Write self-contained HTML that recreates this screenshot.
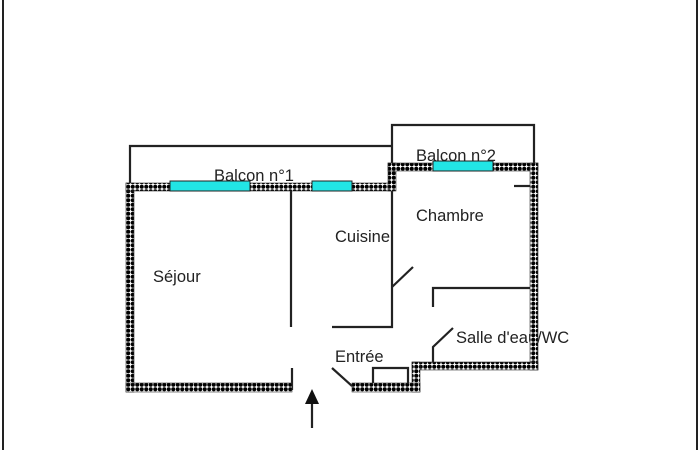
<!DOCTYPE html>
<html><head><meta charset="utf-8"><style>
html,body{margin:0;padding:0;background:#fff;}
svg{display:block;}
text{font-family:"Liberation Sans",sans-serif;font-size:16.5px;fill:#222;}
</style></head><body>
<svg width="700" height="450" viewBox="0 0 700 450" xmlns="http://www.w3.org/2000/svg">
<defs>
<pattern id="w" width="4.5" height="4.5" patternUnits="userSpaceOnUse">
<rect width="4.5" height="4.5" fill="#fff"/>
<circle cx="2.25" cy="2.25" r="2" fill="#000"/>
</pattern>
</defs>
<line x1="3" y1="0" x2="3" y2="450" stroke="#222" stroke-width="2"/>
<line x1="697" y1="0" x2="697" y2="450" stroke="#222" stroke-width="2"/>
<g fill="none" stroke="#222" stroke-width="2.2">
<polyline points="130,183 130,146 392,146"/>
<polyline points="392,163 392,125 534,125 534,163"/>
<line x1="291" y1="191" x2="291" y2="327"/>
<polyline points="392,191 392,327 332,327"/>
<line x1="392" y1="287" x2="413" y2="267"/>
<line x1="332" y1="368" x2="352" y2="386"/>
<line x1="292" y1="368" x2="292" y2="390"/>
<polyline points="373,384 373,368 408,368 408,384"/>
<line x1="514" y1="186" x2="530" y2="186"/>
<polyline points="433,307 433,288 530,288"/>
<polyline points="433,364 433,347 453,328"/>
<line x1="312" y1="428" x2="312" y2="402"/>
</g>
<polygon points="312,389 305,404 319,404" fill="#111"/>
<text x="214" y="181">Balcon n°1</text>
<text x="416" y="161">Balcon n°2</text>
<text x="335" y="242">Cuisine</text>
<text x="416" y="221">Chambre</text>
<text x="153" y="282">Séjour</text>
<text x="335" y="362">Entrée</text>
<text x="456" y="343">Salle d'eau/WC</text>
<g fill="url(#w)" stroke="#333" stroke-width="0.6">
<rect x="126" y="183" width="8" height="209"/>
<rect x="126" y="383" width="166" height="9"/>
<rect x="126" y="183" width="268" height="8"/>
<rect x="388" y="163" width="8" height="28"/>
<rect x="388" y="163" width="150" height="8"/>
<rect x="530" y="163" width="8" height="207"/>
<rect x="412" y="362" width="126" height="8"/>
<rect x="412" y="362" width="8" height="30"/>
<rect x="352" y="383" width="68" height="9"/>
</g>
<g fill="#22e5e5" stroke="#222" stroke-width="1">
<rect x="170" y="181" width="80" height="10"/>
<rect x="312" y="181" width="40" height="10"/>
<rect x="433" y="161" width="60" height="10"/>
</g>
</svg>
</body></html>
